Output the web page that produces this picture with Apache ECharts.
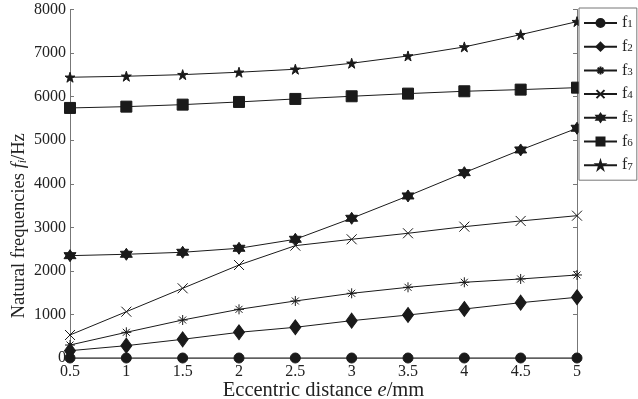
<!DOCTYPE html>
<html>
<head>
<meta charset="utf-8">
<script src="https://cdn.jsdelivr.net/npm/echarts@6/dist/echarts.min.js"></script>
<style>
  html, body { margin: 0; padding: 0; background: #fff; }
  #chart { width: 638px; height: 399px; }
</style>
</head>
<body>
<div id="chart"></div>
<script>
var eccentric = [0.5, 1, 1.5, 2, 2.5, 3, 3.5, 4, 4.5, 5]
var f1 = [0, 0, 0, 0, 0, 0, 0, 0, 0, 0]
var f2 = [168, 283, 429, 590, 705, 857, 987, 1125, 1270, 1394]
var f3 = [298, 590, 872, 1117, 1309, 1485, 1623, 1738, 1814, 1906]
var f4 = [528, 1063, 1600, 2135, 2579, 2725, 2863, 3015, 3146, 3267]
var f5 = [2349, 2381, 2427, 2519, 2725, 3207, 3720, 4255, 4776, 5274]
var f6 = [5740, 5770, 5816, 5878, 5947, 6008, 6069, 6123, 6161, 6206]
var f7 = [6445, 6468, 6505, 6560, 6629, 6766, 6934, 7141, 7423, 7722]
var seriesNames = ['f1', 'f2', 'f3', 'f4', 'f5', 'f6', 'f7']
var seriesValues = [f1, f2, f3, f4, f5, f6, f7]

var font = 'Liberation Serif'
var ink = '#1a1a1a'
var axisGray = '#777'

// marker shapes, roughly the matlab ones
var markers = [
  { symbol: 'circle', size: 10 },
  { symbol: 'diamond', size: [11, 15] },
  { symbol: 'path://M5,0L5,10M0,5L10,5M1.5,1.5L8.5,8.5M8.5,1.5L1.5,8.5', size: 10 },
  { symbol: 'path://M0,0L10,10M10,0L0,10', size: 10 },
  { symbol: 'path://M10,0L18.66,15L1.34,15ZM10,20L1.34,5L18.66,5Z', size: 12 },
  { symbol: 'rect', size: 11 },
  { symbol: 'path://M10,0L12.245,6.91L19.51,6.91L13.63,11.18L15.88,18.09L10,13.82L4.12,18.09L6.37,11.18L0.49,6.91L7.755,6.91Z', size: 10 }
]

var chart = echarts.init(document.getElementById('chart'))

var series = []
for (var i = 0; i < seriesNames.length; i++) {
  var pts = []
  for (var j = 0; j < eccentric.length; j++) {
    pts.push([eccentric[j], seriesValues[i][j]])
  }
  series.push({
    name: seriesNames[i],
    type: 'line',
    data: pts,
    symbol: markers[i].symbol,
    symbolSize: markers[i].size,
    showAllSymbol: true,
    animation: false,
    lineStyle: { color: ink, width: 1 },
    itemStyle: { color: ink, borderColor: ink, borderWidth: 1 },
    emphasis: { disabled: true },
    z: 3
  })
}

var tickLabel = { color: '#222', fontFamily: font, fontSize: 16 }

var option = {
  animation: false,
  grid: { left: 70, right: 61, top: 9.5, bottom: 41, outerBoundsMode: 'none' },
  legend: {
    orient: 'vertical',
    left: 579,
    top: 8,
    padding: [7, 4, 7, 4],
    itemWidth: 33,
    itemHeight: 10,
    itemGap: 7.7,
    backgroundColor: '#fff',
    borderColor: axisGray,
    borderWidth: 1,
    data: seriesNames,
    formatter: function (name) {
      return '{a|f}{s|' + name.slice(1) + '}'
    },
    textStyle: {
      fontFamily: font,
      color: '#222',
      rich: {
        a: { fontFamily: font, fontSize: 16, color: '#222', lineHeight: 14 },
        s: { fontFamily: font, fontSize: 11, color: '#222', verticalAlign: 'bottom', lineHeight: 9 }
      }
    }
  },
  xAxis: [{
    type: 'value',
    min: 0.5,
    max: 5,
    interval: 0.5,
    name: '{a|Eccentric distance }{i|e}{a|/mm}',
    nameLocation: 'middle',
    nameGap: 22,
    nameMoveOverlap: false,
    nameTextStyle: {
      rich: {
        a: { fontFamily: font, fontSize: 20.5, color: '#222' },
        i: { fontFamily: font, fontSize: 20.5, color: '#222', fontStyle: 'italic' }
      }
    },
    axisLine: { show: true, lineStyle: { color: axisGray, width: 1 } },
    axisTick: { show: true, inside: true, length: 4, lineStyle: { color: axisGray } },
    axisLabel: Object.assign({ margin: 6 }, tickLabel),
    splitLine: { show: false }
  }, {
    type: 'value',
    position: 'top',
    min: 0.5,
    max: 5,
    interval: 0.5,
    axisLine: { show: true, lineStyle: { color: axisGray, width: 1 } },
    axisTick: { show: true, inside: true, length: 4, lineStyle: { color: axisGray } },
    axisLabel: { show: false },
    splitLine: { show: false }
  }],
  yAxis: [{
    type: 'value',
    min: 0,
    max: 8000,
    interval: 1000,
    // empty p token is just spacing so the title sits lower, like the original
    name: '{a|Natural frequencies }{i|f}{s|i}{a|/Hz}{p|}',
    nameLocation: 'middle',
    nameGap: 41,
    nameMoveOverlap: false,
    nameTextStyle: {
      rich: {
        a: { fontFamily: font, fontSize: 18.5, color: '#222' },
        i: { fontFamily: font, fontSize: 18.5, color: '#222', fontStyle: 'italic' },
        s: { fontFamily: font, fontSize: 12, color: '#222', fontStyle: 'italic', verticalAlign: 'bottom', lineHeight: 10 },
        p: { width: 84 }
      }
    },
    axisLine: { show: true, lineStyle: { color: axisGray, width: 1 } },
    axisTick: { show: true, inside: true, length: 4, lineStyle: { color: axisGray } },
    axisLabel: Object.assign({ margin: 4, formatter: function (v) { return String(v) } }, tickLabel),
    splitLine: { show: false }
  }, {
    type: 'value',
    position: 'right',
    min: 0,
    max: 8000,
    interval: 1000,
    axisLine: { show: true, lineStyle: { color: axisGray, width: 1 } },
    axisTick: { show: true, inside: true, length: 4, lineStyle: { color: axisGray } },
    axisLabel: { show: false },
    splitLine: { show: false }
  }],
  series: series
}

chart.setOption(option)
</script>
</body>
</html>
